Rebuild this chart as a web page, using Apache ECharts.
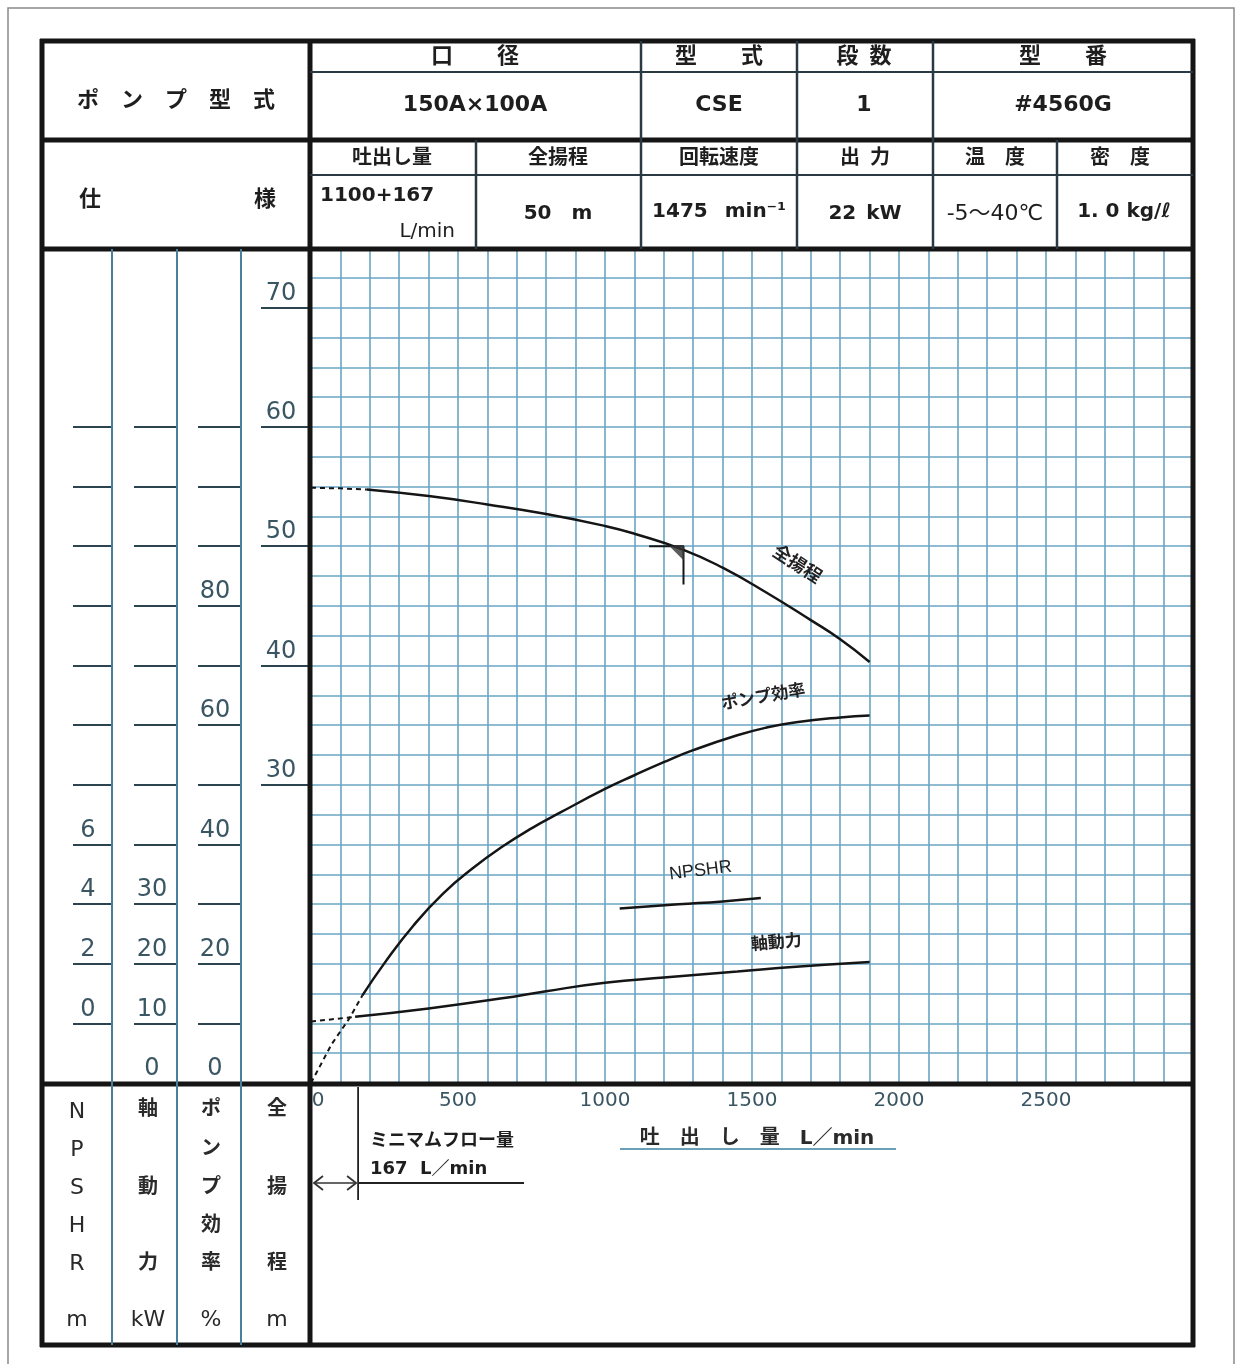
<!DOCTYPE html>
<html>
<head>
<meta charset="utf-8">
<title>ポンプ性能曲線 #4560G</title>
<script src="https://cdn.jsdelivr.net/npm/echarts@6/dist/echarts.min.js"></script>
<style>
  html, body { margin: 0; padding: 0; background: #fff; }
  #chart { width: 1240px; height: 1364px; }
</style>
</head>
<body>
<div id="chart"></div>
<script>
// 吐出し量 L/min（目盛）
var flowTicks = [0, 500, 1000, 1500, 2000, 2500];

// 全揚程 m
var headDashFlow = [0, 100, 190];
var headDash = [54.9, 54.85, 54.75];
var headFlow = [190, 400, 600, 800, 1000, 1100, 1267, 1400, 1550, 1700, 1800, 1900];
var head = [54.75, 54.2, 53.5, 52.7, 51.7, 51.05, 49.7, 48.2, 46.1, 43.8, 42.2, 40.3];

// ポンプ効率 %
var effDashFlow = [0, 70, 130, 175];
var effDash = [0, 6.5, 10.8, 14.7];
var effFlow = [175, 250, 350, 450, 550, 650, 750, 850, 1000, 1100, 1200, 1300, 1450, 1550, 1650, 1800, 1900];
var eff = [14.7, 20.1, 26.5, 31.8, 36.0, 39.6, 42.7, 45.4, 49.3, 51.6, 53.8, 55.8, 58.3, 59.6, 60.5, 61.3, 61.6];

// 軸動力 kW
var powerDashFlow = [0, 150];
var powerDash = [10.3, 11.1];
var powerFlow = [150, 400, 650, 800, 1000, 1200, 1450, 1650, 1900];
var power = [11.1, 12.5, 14.2, 15.4, 16.8, 17.7, 18.7, 19.5, 20.3];

// NPSHR m
var npshrFlow = [1050, 1250, 1400, 1530];
var npshr = [3.85, 3.99, 4.09, 4.2];

// 仕様点・ミニマムフロー
var ratedFlow = 1267;
var ratedHead = 50;
var dutyMarkFlow = [1150, 1267, 1267];
var dutyMarkHead = [50, 50, 46.8];
var minFlow = 167;

// 左側目盛
var headTicks = [30, 40, 50, 60, 70];
var effTicks = [10, 20, 30, 40, 50, 60, 70, 80, 90, 100, 110];
var effLabels = [0, 20, 40, 60, 80];
var powerTicks = [10, 20, 30, 40, 50, 60, 70, 80, 90, 100, 110];
var powerLabels = [0, 10, 20, 30];
var npshrTicks = [0, 2, 4, 6, 8, 10, 12, 14, 16, 18, 20];
var npshrLabels = [0, 2, 4, 6];

function pairs(xs, ys) {
  return xs.map(function (x, i) { return [x, ys[i]]; });
}

var GRID = '#6aa6c3';
var INK = '#151515';
var NUM = '#3b5663';
var DIV = '#46809a';
var NUMFONT = 'DejaVu Sans';
var JP = "'DejaVu Sans','Noto Sans CJK JP',sans-serif";

function sideAxis(min, max, offset, ticks, labels, tickLen, margin) {
  return {
    type: 'value', min: min, max: max, position: 'left', offset: offset,
    axisLine: { show: false },
    splitLine: { show: false },
    axisTick: { show: true, customValues: ticks, length: tickLen, lineStyle: { color: '#2c4450', width: 2 } },
    axisLabel: {
      show: true, customValues: labels, margin: margin, align: 'center', verticalAlign: 'bottom',
      lineHeight: 28, fontSize: 24, color: NUM, fontFamily: NUMFONT
    }
  };
}

function curve(name, data, yIdx, dashed, mark) {
  var s = {
    name: name, type: 'line', xAxisIndex: 0, yAxisIndex: yIdx, data: data,
    showSymbol: false, symbol: 'none', smooth: dashed ? false : 0.5, silent: true,
    lineStyle: { color: INK, width: dashed ? 2 : 2.5, type: dashed ? [5, 4] : 'solid' },
    z: 5
  };
  if (mark) {
    s.markPoint = {
      symbol: 'circle', symbolSize: 1, silent: true,
      itemStyle: { color: 'rgba(0,0,0,0)' },
      label: {
        show: true, position: 'inside', formatter: '{b}', rotate: mark.rotate,
        color: '#222', fontSize: mark.size || 17, fontWeight: mark.weight || 'bold', fontFamily: mark.font || JP
      },
      data: [{ name: mark.text, coord: mark.coord }]
    };
  }
  return s;
}

var chart = echarts.init(document.getElementById('chart'), null, { renderer: 'canvas' });

chart.setOption({
  animation: false,
  backgroundColor: '#fff',
  grid: { left: 311, right: 47, top: 248, bottom: 281, containLabel: false },
  xAxis: [{
    type: 'value', min: 0, max: 3000, interval: 100,
    splitLine: { show: true, lineStyle: { color: GRID, width: 1.6 } },
    axisLine: { show: false }, axisTick: { show: false },
    axisLabel: {
      margin: 8, fontSize: 20, color: NUM, fontFamily: NUMFONT,
      formatter: function (v) {
        if (flowTicks.indexOf(v) < 0) return '';
        return v === 0 ? '{z|0}' : String(v);
      },
      rich: { z: { padding: [0, 0, 0, 14], fontSize: 20, color: NUM, fontFamily: NUMFONT } }
    },
    name: '吐　出　し　量　L／min', nameLocation: 'middle', nameGap: 46,
    nameTextStyle: { fontSize: 20, fontWeight: 'bold', color: '#2a2a2a', fontFamily: JP, padding: [0, 0, 0, 10] }
  }],
  yAxis: [
    {
      type: 'value', min: 5, max: 75, interval: 2.5, position: 'left',
      splitLine: { show: true, lineStyle: { color: GRID, width: 1.6 } },
      axisLine: { show: false }, axisTick: { show: false }, axisLabel: { show: false }
    },
    sideAxis(5, 75, 0, headTicks, headTicks, 50, 30),
    sideAxis(0, 140, 70, effTicks, effLabels, 43, 26),
    sideAxis(0, 140, 134, powerTicks, powerLabels, 43, 25),
    sideAxis(-2, 26, 199, npshrTicks, npshrLabels, 39, 24)
  ],
  series: [
    curve('全揚程(破線)', pairs(headDashFlow, headDash), 1, true),
    curve('全揚程', pairs(headFlow, head), 1, false,
      { text: '全揚程', coord: [1651, 48.4], rotate: -33, size: 18 }),
    curve('ポンプ効率(破線)', pairs(effDashFlow, effDash), 2, true),
    curve('ポンプ効率', pairs(effFlow, eff), 2, false,
      { text: 'ポンプ効率', coord: [1539, 64.6], rotate: 10 }),
    curve('軸動力(破線)', pairs(powerDashFlow, powerDash), 3, true),
    curve('軸動力', pairs(powerFlow, power), 3, false,
      { text: '軸動力', coord: [1583, 23.4], rotate: 5 }),
    curve('NPSHR', pairs(npshrFlow, npshr), 4, false,
      { text: 'NPSHR', coord: [1325, 5.12], rotate: 7, size: 18, weight: 'normal',
        font: "'Liberation Sans Narrow','Liberation Sans',sans-serif" }),
    {
      name: '仕様点', type: 'line', yAxisIndex: 1, data: pairs(dutyMarkFlow, dutyMarkHead),
      showSymbol: false, symbol: 'none', silent: true,
      lineStyle: { color: INK, width: 2 }, z: 6
    },
    {
      name: '仕様点マーク', type: 'scatter', yAxisIndex: 1, data: [[ratedFlow, ratedHead]],
      symbol: 'path://M0,0L10,0L10,10Z', symbolSize: 15, symbolOffset: [-7, 7], silent: true,
      itemStyle: { color: '#333' }, z: 6
    }
  ]
});

// 表の罫線と文字
var g = [];
function L(x1, y1, x2, y2, w, c) {
  g.push({ type: 'line', silent: true, z: 100,
    shape: { x1: x1, y1: y1, x2: x2, y2: y2 },
    style: { stroke: c || INK, lineWidth: w || 2 } });
}
function P(points, w, c) {
  g.push({ type: 'polyline', silent: true, z: 100,
    shape: { points: points }, style: { stroke: c || INK, lineWidth: w || 1.5, fill: null } });
}
function T(text, x, y, font, align, color) {
  g.push({ type: 'text', silent: true, z: 110, x: x, y: y,
    style: { text: text, font: font, fill: color || '#1e1e1e',
      align: align || 'center', verticalAlign: 'middle',
      textAlign: align || 'center', textVerticalAlign: 'middle' } });
}

// 外枠
g.push({ type: 'rect', silent: true, z: 1, shape: { x: 8, y: 8, width: 1226, height: 1380 },
  style: { stroke: '#8a8a8a', lineWidth: 1.5, fill: null } });

// 太線
L(40, 41, 1195, 41, 5);
L(40, 140, 1195, 140, 5);
L(40, 249, 1195, 249, 5);
L(40, 1084, 1195, 1084, 5);
L(40, 1345, 1195, 1345, 5);
L(42, 39, 42, 1347, 5);
L(310, 39, 310, 1347, 5);
L(1193, 39, 1193, 1347, 5);
// 見出し細線
L(310, 72, 1193, 72, 2, '#2b3a42');
L(310, 175, 1193, 175, 2, '#2b3a42');
[641, 797, 933].forEach(function (x) { L(x, 41, x, 140, 2.5, '#2b3a42'); });
[476, 641, 797, 933, 1057].forEach(function (x) { L(x, 140, x, 249, 2.5, '#2b3a42'); });
// 左目盛欄の区切り
[112, 177, 241].forEach(function (x) { L(x, 249, x, 1345, 2, DIV); });

var B22 = 'bold 22px ' + JP;
var B20 = 'bold 20px ' + JP;
var B18 = 'bold 18px ' + JP;

T('ポ　ン　プ　型　式', 176, 101, B22);
T('口　　径', 475, 57, B22);
T('型　　式', 719, 57, B22);
T('段\u2002数', 864, 57, B22);
T('型　　番', 1063, 57, B22);
T('150A×100A', 475, 105, B22);
T('CSE', 719, 105, B22);
T('1', 864, 105, B22);
T('#4560G', 1063, 105, B22);

T('仕', 90, 200, B22);
T('様', 265, 200, B22);
T('吐出し量', 392, 159, B20);
T('全揚程', 558, 159, B20);
T('回転速度', 719, 159, B20);
T('出\u2002力', 865, 159, B20);
T('温　度', 995, 159, B20);
T('密　度', 1120, 159, B20);
T('1100+167', 320, 196, B20, 'left');
T('L/min', 455, 232, '20px ' + JP, 'right');
T('50\u2003m', 558, 214, B20);
T('1475\u2002 min⁻¹', 719, 212, B20);
T('22\u2002kW', 865, 214, B20);
T('-5〜40℃', 995, 214, '22px ' + JP);
T('1. 0 kg/ℓ', 1124, 212, B20);

// 単位欄
var R22 = "22px 'DejaVu Sans',sans-serif";
[['N', 1112], ['P', 1150], ['S', 1188], ['H', 1226], ['R', 1264], ['m', 1320]].forEach(function (a) {
  T(a[0], 77, a[1], R22, 'center', '#2a2a2a');
});
[['軸', 1110], ['動', 1188], ['力', 1264]].forEach(function (a) { T(a[0], 148, a[1], B20, 'center', '#2a2a2a'); });
T('kW', 148, 1320, R22, 'center', '#2a2a2a');
[['ポ', 1110], ['ン', 1150], ['プ', 1188], ['効', 1226], ['率', 1264]].forEach(function (a) {
  T(a[0], 211, a[1], B20, 'center', '#2a2a2a');
});
T('%', 211, 1320, R22, 'center', '#2a2a2a');
[['全', 1110], ['揚', 1188], ['程', 1264]].forEach(function (a) { T(a[0], 277, a[1], B20, 'center', '#2a2a2a'); });
T('m', 277, 1320, R22, 'center', '#2a2a2a');

// 横軸名の下線
L(620, 1149, 896, 1149, 2, '#6a9fb8');

// ミニマムフロー
var xMin = chart.convertToPixel({ xAxisIndex: 0 }, minFlow);
var x0 = chart.convertToPixel({ xAxisIndex: 0 }, 0);
L(xMin - 2, 1087, xMin - 2, 1200, 1.8, '#222');
L(xMin - 2, 1183, 524, 1183, 1.8, '#222');
L(x0 + 3, 1183, xMin - 4, 1183, 1.5, '#333');
P([[x0 + 12, 1176], [x0 + 3, 1183], [x0 + 12, 1190]], 1.8, '#333');
P([[xMin - 13, 1176], [xMin - 4, 1183], [xMin - 13, 1190]], 1.8, '#333');
T('ミニマムフロー量', 370, 1141, B18, 'left');
T('167  L／min', 370, 1169, B18, 'left');

chart.setOption({ graphic: { elements: g } });
</script>
</body>
</html>
